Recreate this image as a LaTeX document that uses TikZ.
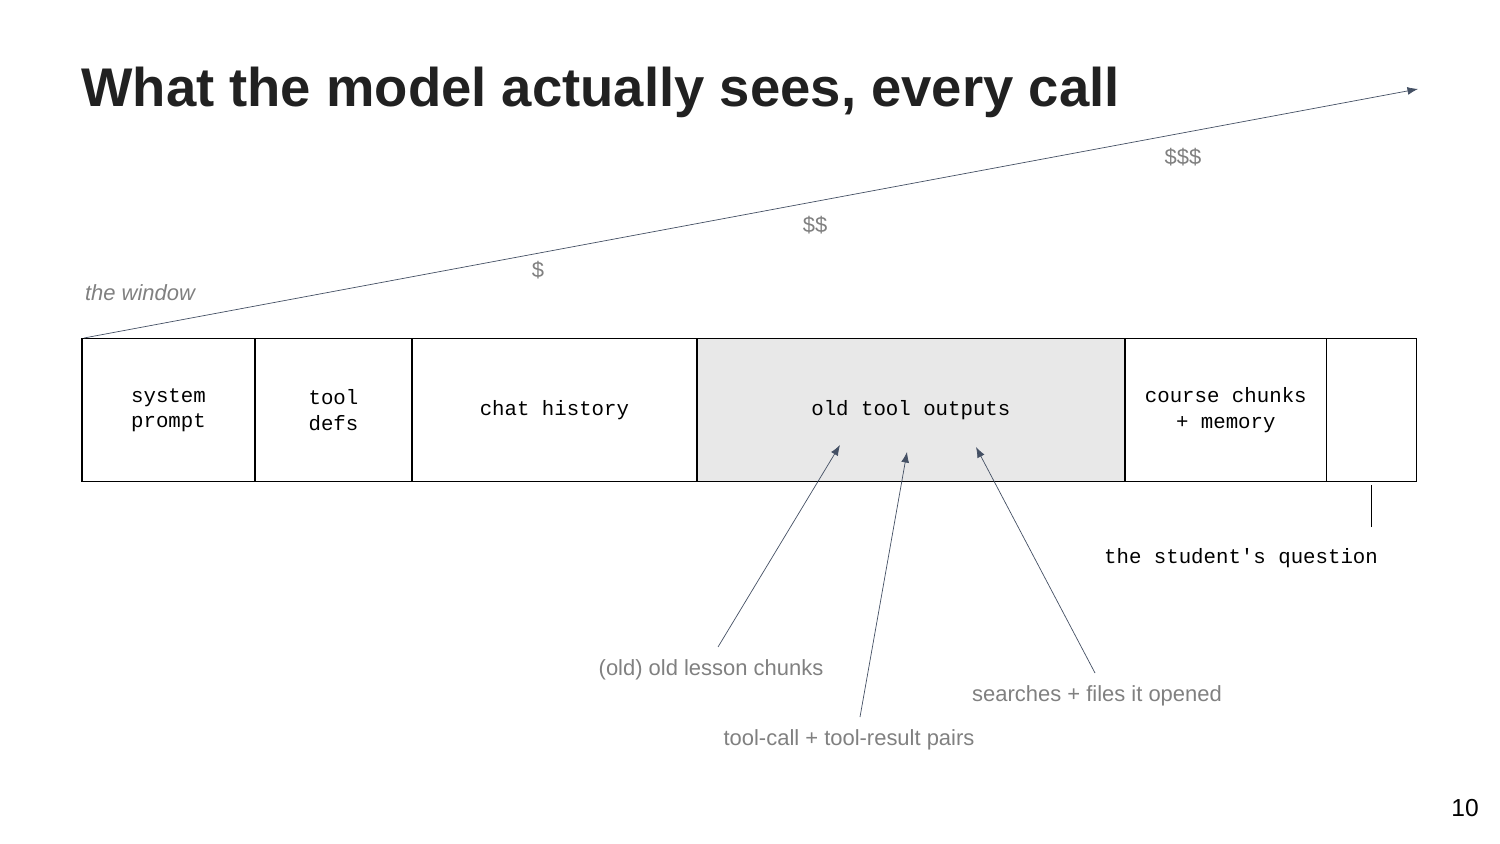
\documentclass[tikz,border=0pt]{standalone}
\usepackage{fontspec}
\setmainfont{Liberation Sans}
\newfontfamily\monofont{Liberation Mono}
\usetikzlibrary{arrows.meta,positioning}
\definecolor{slate}{RGB}{68,80,100}
\definecolor{labelgray}{RGB}{128,128,128}
\definecolor{cellgray}{RGB}{232,232,232}
\definecolor{titleblack}{RGB}{33,33,33}

\begin{document}
\begin{tikzpicture}[x=0.02cm,y=-0.02cm,
    cell/.style={draw, thick, outer sep=0pt, minimum height=2.86cm, inner sep=0pt, align=center, font=\monofont\fontsize{11.8}{14.5}\selectfont},
    note/.style={text=labelgray, font=\fontsize{12.5}{15}\selectfont},
    pointer/.style={-{Latex[length=6pt,width=4.5pt]}, slate}]
        \useasboundingbox (0,0) rectangle (1500,844);

        % Title
        \node [anchor=west, text=titleblack, font=\bfseries\fontsize{31}{36}\selectfont, inner sep=0pt] (title) at (81,92) {What the model actually sees, every call};

        % Window cells
        \node [cell, minimum width=3.46cm, anchor=west] (sys) at (82,410) {system\\prompt};
        \node [cell, minimum width=3.14cm, right=0pt of sys] (defs) {tool\\defs};
        \node [cell, minimum width=5.70cm, right=0pt of defs] (chat) {chat history};
        \node [cell, minimum width=8.56cm, right=0pt of chat, fill=cellgray] (old) {old tool outputs};
        \node [cell, minimum width=4.04cm, right=0pt of old] (course) {course chunks\\+ memory};
        \node [cell, minimum width=1.80cm, right=0pt of course] (question) {};

        % Cost arrow
        \coordinate (start) at (84,338);
        \coordinate (tip) at (1418,89);
        \draw [pointer] (start) -- (tip);
        \node [note] (cheap) at (538,270) {\$};
        \node [note] (mid) at (815,225) {\$\$};
        \node [note] (dear) at (1183,157) {\$\$\$};
        \node [note, font=\itshape\fontsize{12.5}{15}\selectfont] (window) at (140,293) {the window};

        % Labels below
        \node [note] (lesson) at (711,670) {(old) old lesson chunks};
        \node [note] (pairs) at (849,740) {tool-call + tool-result pairs};
        \node [note] (searches) at (1097,696) {searches + files it opened};
        \node [font=\monofont\fontsize{11.8}{14}\selectfont] (student) at (1241,558) {the student's question};
        \coordinate (lessontip) at (840,445);
        \coordinate (pairstip) at (907,452);
        \coordinate (searchtip) at (976,447);
        \draw [pointer] (718,647) -- (lessontip);
        \draw [pointer] (860,717) -- (pairstip);
        \draw [pointer] (1095,673) -- (searchtip);
        \draw [semithick] (question.south |- 0,527) -- ([yshift=-2pt]question.south);

        % Page number
        \node [font=\fontsize{14}{16}\selectfont] (page) at (1465,808) {10};
    \end{tikzpicture}
\end{document}
